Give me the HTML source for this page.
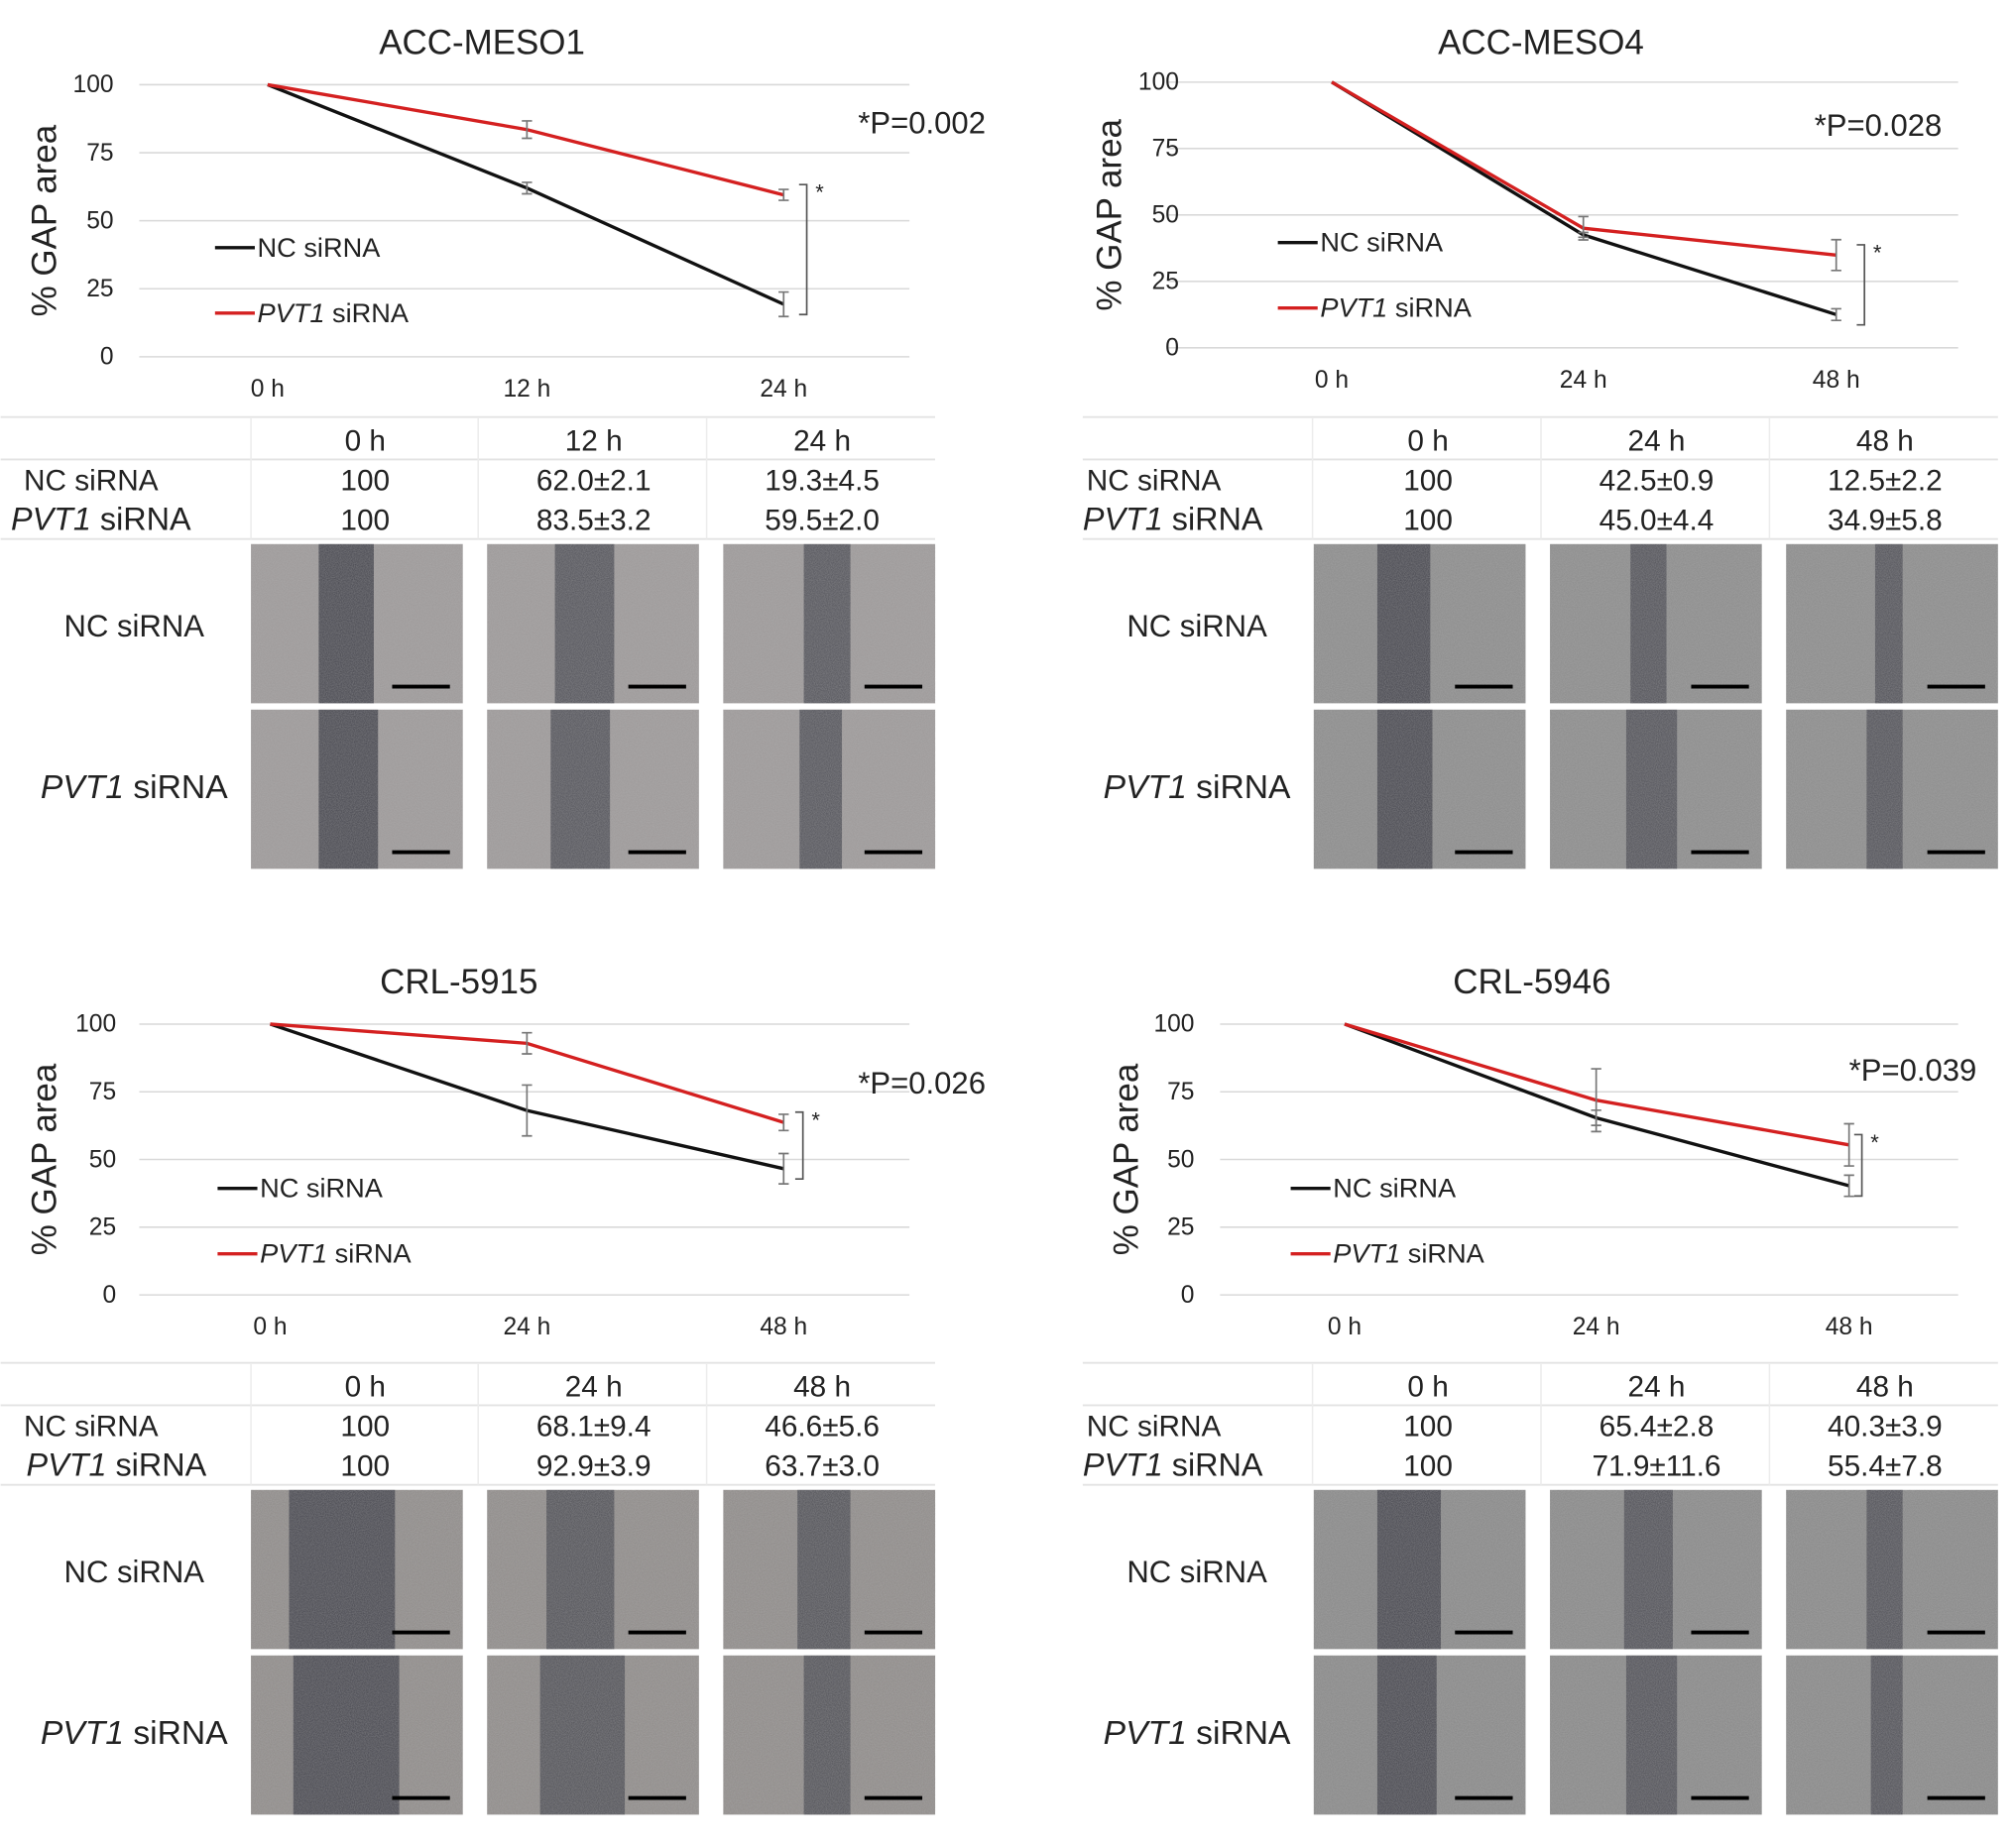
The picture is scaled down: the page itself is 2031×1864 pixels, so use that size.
<!DOCTYPE html>
<html><head><meta charset="utf-8"><style>
html,body{margin:0;padding:0;background:#fff;}
svg{display:block;}
text{font-family:"Liberation Sans",Arial,sans-serif;fill:#222;}
</style></head><body>
<svg id="fig" width="2031" height="1864" viewBox="0 0 1568 1440" xmlns="http://www.w3.org/2000/svg">
<defs>
<filter id="noise" x="0" y="0" width="100%" height="100%">
<feTurbulence type="fractalNoise" baseFrequency="1.2" numOctaves="2" seed="3"/>
<feColorMatrix type="matrix" values="0 0 0 0 0.5  0 0 0 0 0.5  0 0 0 0 0.5  0 0 0 0.9 0"/>
</filter>
</defs>
</svg>
<script>
// ---- data ----
const panelTitles = ["ACC-MESO1","ACC-MESO4","CRL-5915","CRL-5946"];
const timeLabels = [["0 h","12 h","24 h"],["0 h","24 h","48 h"],["0 h","24 h","48 h"],["0 h","24 h","48 h"]];
const ncMeans = [[100,62.0,19.3],[100,42.5,12.5],[100,68.1,46.6],[100,65.4,40.3]];
const ncSD = [[0,2.1,4.5],[0,0.9,2.2],[0,9.4,5.6],[0,2.8,3.9]];
const pvtMeans = [[100,83.5,59.5],[100,45.0,34.9],[100,92.9,63.7],[100,71.9,55.4]];
const pvtSD = [[0,3.2,2.0],[0,4.4,5.8],[0,3.9,3.0],[0,11.6,7.8]];
const pValues = ["*P=0.002","*P=0.028","*P=0.026","*P=0.039"];
const yTicks = [0,25,50,75,100];

const L = [
 {title:[375,42], gTop:66, gBot:278, gx0:108, gx1:708, px:[208,410,610], ylab:88, yt:35, p:[668,104], leg:[167,193,244], brX:628, tblX0:0, tblX1:728, colSep:[195,372,550], cols:[284,462,640], rowLblX:[18,8], img:[195,379,563], imgW:165, lblCx:104, ty:0},
 {title:[1200,42], gTop:64, gBot:271, gx0:910, gx1:1525, px:[1037,1233,1430], ylab:918, yt:865, p:[1413,106], leg:[995,189,240], brX:1452, tblX0:843, tblX1:1556, colSep:[1022,1200,1378], cols:[1112,1290,1468], rowLblX:[846,843], img:[1023,1207,1391], imgW:165, lblCx:932, ty:0},
 {title:[357,774], gTop:798, gBot:1009, gx0:108, gx1:708, px:[210,410,610], ylab:90, yt:35, p:[668,852], leg:[169,926,977], brX:625, tblX0:0, tblX1:728, colSep:[195,372,550], cols:[284,462,640], rowLblX:[18,20], img:[195,379,563], imgW:165, lblCx:104, ty:737},
 {title:[1193,774], gTop:798, gBot:1009, gx0:950, gx1:1525, px:[1047,1243,1440], ylab:930, yt:878, p:[1440,842], leg:[1005,926,977], brX:1450, tblX0:843, tblX1:1556, colSep:[1022,1200,1378], cols:[1112,1290,1468], rowLblX:[846,843], img:[1023,1207,1391], imgW:165, lblCx:932, ty:737}
];
const gaps = [
 [[[0.32,0.58],[0.32,0.6],[0.38,0.6]],[[0.32,0.6],[0.3,0.58],[0.36,0.56]]],
 [[[0.3,0.55],[0.38,0.55],[0.42,0.55]],[[0.3,0.56],[0.36,0.6],[0.38,0.55]]],
 [[[0.18,0.68],[0.28,0.6],[0.35,0.6]],[[0.2,0.7],[0.25,0.65],[0.38,0.6]]],
 [[[0.3,0.6],[0.35,0.58],[0.38,0.55]],[[0.3,0.58],[0.36,0.6],[0.4,0.55]]]
];
const imgBase = ["#9c9898","#8a8a8a","#8e8a88","#878787"];

const svg = document.getElementById('fig');
const NS = "http://www.w3.org/2000/svg";
function mk(tag, attrs, parent){const e=document.createElementNS(NS,tag);for(const k in attrs)e.setAttribute(k,attrs[k]);(parent||svg).appendChild(e);return e;}
function txt(x,y,s,size,anchor,parent,extra){const t=mk('text',Object.assign({x:x,y:y,'font-size':size,'text-anchor':anchor||'start'},extra||{}),parent);t.textContent=s;return t;}

L.forEach((c,pi)=>{
  const g = mk('g',{});
  
  
  const yS = v => c.gBot - (v/100)*(c.gBot-c.gTop);
  const t = txt(c.title[0],c.title[1],panelTitles[pi],27,'middle',g);
  
  
  yTicks.forEach(v=>{
    const ln = mk('line',{x1:c.gx0,x2:c.gx1,y1:yS(v),y2:yS(v),stroke:'#d9d9d9','stroke-width':1.2},g);
    
    
    const tl = txt(c.ylab,yS(v)+6,String(v),19,'end',g,{fill:'#444'});
    
    
  });
  const yt = txt(0,0,"%  GAP area",27,'middle',g,{transform:`translate(${c.yt+8},${(c.gTop+c.gBot)/2}) rotate(-90)`,fill:'#333'});
  
  
  timeLabels[pi].forEach((s,i)=>{
    const xl = txt(c.px[i],c.gBot+31,s,19,'middle',g,{fill:'#444'});
    
    
  });
  [[ncMeans[pi],ncSD[pi],'#111','nc-line'],[pvtMeans[pi],pvtSD[pi],'#d42020','pvt1-line']].forEach(([m,sd,col,nm])=>{
    const pts = m.map((v,i)=>c.px[i]+','+yS(v)).join(' ');
    const pl = mk('polyline',{points:pts,fill:'none',stroke:col,'stroke-width':2.6},g);
    
    
    m.forEach((v,i)=>{
      if(sd[i]<=0) return;
      const eb = mk('path',{d:`M${c.px[i]},${yS(v+sd[i])}V${yS(v-sd[i])}M${c.px[i]-4},${yS(v+sd[i])}h8M${c.px[i]-4},${yS(v-sd[i])}h8`,stroke:'#777','stroke-width':1.3,fill:'none'},g);
      
      
    });
  });
  const last = 2;
  const ya = yS(pvtMeans[pi][last]), yb = yS(ncMeans[pi][last]);
  const br = mk('path',{d:`M${c.brX-6},${ya-8}H${c.brX}V${yb+8}H${c.brX-6}`,stroke:'#555','stroke-width':1.3,fill:'none'},g);
  
  
  const st = txt(c.brX+10,ya+4,"*",17,'middle',g);
  
  
  const pv = txt(c.p[0],c.p[1],pValues[pi],24,'start',g);
  
  
  const lg = mk('g',{},g);
  
  
  mk('line',{x1:c.leg[0],x2:c.leg[0]+31,y1:c.leg[1],y2:c.leg[1],stroke:'#111','stroke-width':2.6},lg);
  txt(c.leg[0]+33,c.leg[1]+7,"NC siRNA",21,'start',lg);
  mk('line',{x1:c.leg[0],x2:c.leg[0]+31,y1:c.leg[2],y2:c.leg[2],stroke:'#d42020','stroke-width':2.6},lg);
  const lt = txt(c.leg[0]+33,c.leg[2]+7,"",21,'start',lg);
  const ti = mk('tspan',{'font-style':'italic'},lt); ti.textContent="PVT1";
  const tr = mk('tspan',{},lt); tr.textContent=" siRNA";
  const T = c.ty;
  const tb = mk('g',{},g);
  
  
  [325,358,420].forEach(y=>mk('line',{x1:c.tblX0,x2:c.tblX1,y1:y+T,y2:y+T,stroke:'#e3e3e3','stroke-width':1.5},tb));
  c.colSep.forEach(x=>mk('line',{x1:x,x2:x,y1:326+T,y2:420+T,stroke:'#ececec','stroke-width':1.2},tb));
  timeLabels[pi].forEach((s,i)=>txt(c.cols[i],351+T,s,23,'middle',tb));
  txt(c.rowLblX[0],382+T,"NC siRNA",23,'start',tb);
  const r2 = txt(c.rowLblX[1],413+T,"",25,'start',tb);
  const r2i = mk('tspan',{'font-style':'italic'},r2); r2i.textContent="PVT1";
  const r2r = mk('tspan',{},r2); r2r.textContent=" siRNA";
  ncMeans[pi].forEach((v,i)=>txt(c.cols[i],382+T,i===0?"100":v.toFixed(1)+"±"+ncSD[pi][i].toFixed(1),23,'middle',tb));
  pvtMeans[pi].forEach((v,i)=>txt(c.cols[i],413+T,i===0?"100":v.toFixed(1)+"±"+pvtSD[pi][i].toFixed(1),23,'middle',tb));
  const rowsY = [424+T,553+T];
  const lb1 = txt(c.lblCx,496+T,"NC siRNA",24,'middle',g);
  
  
  const lb2 = txt(c.lblCx,622+T,"",26,'middle',g);
  
  
  const l2i = mk('tspan',{'font-style':'italic'},lb2); l2i.textContent="PVT1";
  const l2r = mk('tspan',{},lb2); l2r.textContent=" siRNA";
  rowsY.forEach((y,ri)=>{
    c.img.forEach((x,ci)=>{
      const im = mk('g',{},g);
      
      
      const w=c.imgW,h=124;
      mk('rect',{x:x,y:y,width:w,height:h,fill:imgBase[pi]},im);
      const gp = gaps[pi][ri][ci];
      mk('rect',{x:x+gp[0]*w,y:y,width:(gp[1]-gp[0])*w,height:h,fill:'#45454d',opacity:ci===0?1:0.85},im);
      mk('rect',{x:x,y:y,width:w,height:h,fill:'#000',filter:'url(#noise)',opacity:0.5},im);
      mk('line',{x1:x+w-55,x2:x+w-10,y1:y+111,y2:y+111,stroke:'#000','stroke-width':3},im);
    });
  });
});
</script>
</body></html>
